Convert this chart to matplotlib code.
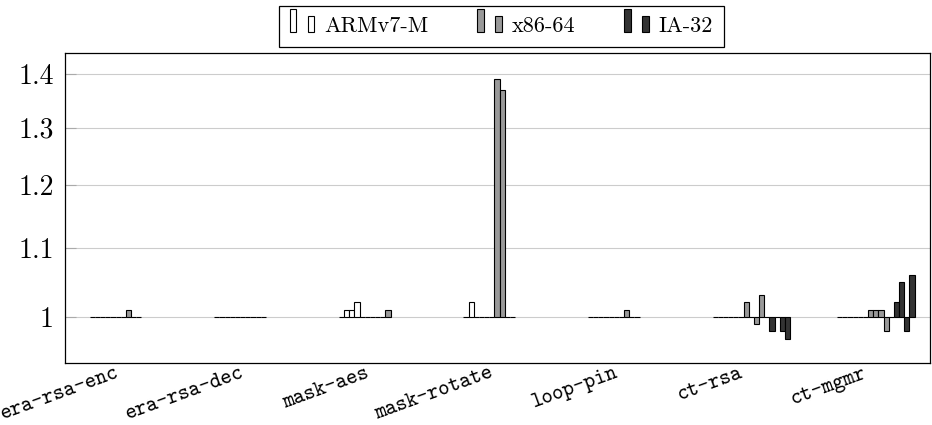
import numpy as np
import matplotlib
matplotlib.use("Agg")
import matplotlib.pyplot as plt
from matplotlib.patches import Patch, Rectangle
from matplotlib.legend_handler import HandlerBase
from matplotlib.transforms import ScaledTranslation

benchmarks = ["era-rsa-enc", "era-rsa-dec", "mask-aes", "mask-rotate",
              "loop-pin", "ct-rsa", "ct-mgmr"]
archs = ["ARMv7-M", "x86-64", "IA-32"]

# relative overhead, five variants per architecture and benchmark (None = not run)
arm = [
    [1, 1, 1, 1, 1],
    [1, 1, 1, 1, 1],
    [1, 1.01, 1.01, 1.02, 1],
    [1, 1.02, 1, 1, 1],
    [1, 1, 1, 1, 1],
    [1, 1, 1, 1, 1],
    [1, 1, 1, 1, 1],
]
x86 = [
    [1, 1, 1.01, 1, 1],
    [1, 1, 1, 1, 1],
    [1, 1, 1, 1, 1.01],
    [1, 1.39, 1.37, 1, 1],
    [1, 1, 1.01, 1, 1],
    [1, 1.02, 1, 0.99, 1.03],
    [1, 1.01, 1.01, 1.01, 0.98],
]
ia32 = [
    None,
    None,
    None,
    None,
    None,
    [1, 0.98, 1, 0.98, 0.97],
    [1, 1.02, 1.05, 0.98, 1.06],
]
series = [arm, x86, ia32]
colors = ["white", "#999999", "#333333"]

yticks = [1, 1.1, 1.2, 1.3, 1.4]


class TwoBarHandler(HandlerBase):
    # pgfplots-style ybar legend image: a tall and a short bar
    def create_artists(self, legend, orig_handle, xdescent, ydescent,
                       width, height, fontsize, trans):
        fc = orig_handle.get_facecolor()
        bw = width * 0.26
        x0, y0 = -xdescent, -ydescent
        tall = Rectangle((x0, y0), bw, height * 1.5, facecolor=fc,
                         edgecolor="black", linewidth=0.8, transform=trans)
        short = Rectangle((x0 + width - bw, y0), bw, height * 1.05, facecolor=fc,
                          edgecolor="black", linewidth=0.8, transform=trans)
        return [tall, short]


fig = plt.figure(figsize=(9.32, 4.25), dpi=100)
ax = fig.add_axes([65 / 932, 1 - 363.3 / 425, 865 / 932, 310 / 425])
ax.set_yscale("log")

n_per = 5
bw = 0.0415
x = np.arange(len(benchmarks))
for s, (vals, col) in enumerate(zip(series, colors)):
    for g, row in enumerate(vals):
        if row is None:
            continue
        for k, v in enumerate(row):
            slot = s * n_per + k
            pos = x[g] + (slot - 7) * bw
            ax.bar(pos, v - 1, bottom=1, width=bw, facecolor=col,
                   edgecolor="black", linewidth=0.8, zorder=3)

ax.set_xlim(-0.51, 6.435)
ax.set_ylim(0.9375, 1.441)
ax.set_yticks(yticks)
ax.set_yticklabels([f"{t:g}" for t in yticks], family="cmr10", fontsize=20)
ax.yaxis.set_minor_locator(matplotlib.ticker.NullLocator())
ax.tick_params(axis="y", direction="in", length=8, width=0.8, color="#aaaaaa", pad=8)
ax.grid(axis="y", color="#cccccc", linewidth=0.8, zorder=0)
ax.set_axisbelow(True)

ax.set_xticks(x)
ax.set_xticklabels(benchmarks, family="cmtt10", fontsize=15.5, rotation=20,
                   ha="right", rotation_mode="anchor")
ax.tick_params(axis="x", length=0, pad=6)
shift = ScaledTranslation(-13 / 100, 8 / 100, fig.dpi_scale_trans)
for lbl in ax.get_xticklabels():
    lbl.set_transform(lbl.get_transform() + shift)
for sp in ax.spines.values():
    sp.set_linewidth(0.9)

handles = [Patch(facecolor=c, edgecolor="black") for c in colors]
leg = fig.legend(handles, archs, handler_map={Patch: TwoBarHandler()},
                 loc="center", bbox_to_anchor=(501.5 / 932, 1 - 26.5 / 425),
                 bbox_transform=fig.transFigure, ncol=3, frameon=True,
                 fancybox=False, framealpha=1, edgecolor="black",
                 prop={"family": "cmr10", "size": 16},
                 handlelength=1.1, handletextpad=0.45, columnspacing=2.2,
                 borderpad=0.5, borderaxespad=0)
leg.get_frame().set_linewidth(0.9)

fig.savefig("out.png", dpi=100)
